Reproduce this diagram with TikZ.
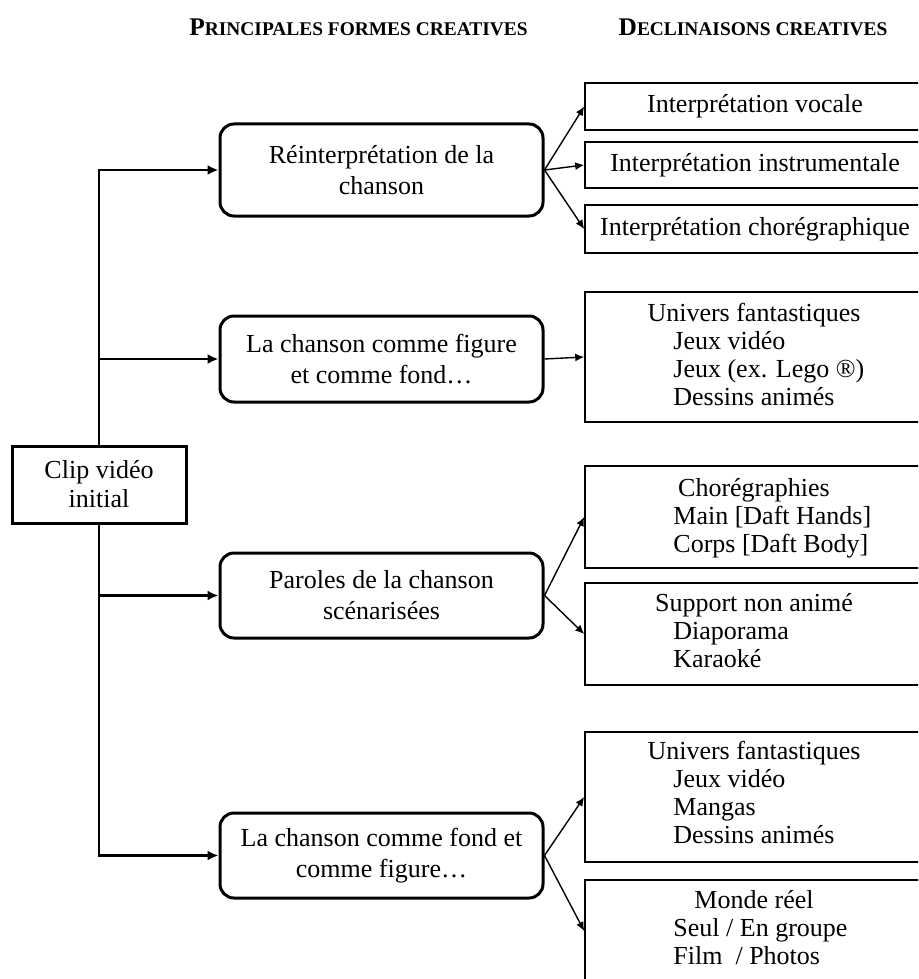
\documentclass[tikz,border=0pt]{standalone}
\usepackage{fontspec}
\setmainfont{Liberation Serif}
\usetikzlibrary{arrows.meta}
\tikzstyle{forme} = [draw, rounded corners=7pt, line width=1.5pt, minimum width=161.5pt, align=center, font=\fontsize{13}{15.5}\selectfont]
\tikzstyle{declin} = [draw, line width=0.8pt, minimum width=170pt]
\tikzstyle{trunk} = [line width=1.4pt, -{Latex[length=5.5pt,width=5pt]}]
\tikzstyle{branch} = [line width=0.7pt, -{Latex[length=4.5pt,width=4pt]}]
\newcommand{\petitecap}[2]{{\fontsize{12.7}{14}\selectfont #1}{\fontsize{9.7}{12}\selectfont #2}}
\newcommand{\declist}[4]{%
	\node[anchor=base, inner xsep=0pt] (#1-0) at (754,#2) {#3};
	\foreach \t [count=\i] in {#4}
		\node[anchor=base west, inner xsep=0pt] (#1-\i) at (673,{#2+28*\i}) {\t};}

\begin{document}
\begin{tikzpicture}[x=0.5pt, y=-0.5pt, font=\fontsize{13}{14.5}\selectfont]
		
		% Frame
		\useasboundingbox (0,0) rectangle (918,979);
		\clip (0,0) rectangle (918,979);
		
		% Headers
		\node[font=\bfseries] (h1) at (358.5,27) {\petitecap{P}{RINCIPALES FORMES CREATIVES}};
		\node[font=\bfseries] (h2) at (753,27) {\petitecap{D}{ECLINAISONS CREATIVES}};
		
		% Nodes
		\node[draw, line width=1.5pt, minimum width=87pt, minimum height=38.5pt, align=center] (clip) at (99,484.5) {Clip vidéo\\initial};
		\node[forme, minimum height=46pt] (b1) at (381.5,170) {Réinterprétation de la\\chanson};
		\node[forme, minimum height=43pt] (b2) at (381.5,359) {La chanson comme figure\\et comme fond…};
		\node[forme, minimum height=42.5pt] (b3) at (381.5,595.5) {Paroles de la chanson\\scénarisées};
		\node[forme, minimum height=42.5pt] (b4) at (381.5,855.5) {La chanson comme fond et\\comme figure…};
		
		% Declinaisons
		\node[declin, minimum height=23.5pt] (r1) at (755,106.5) {Interprétation vocale};
		\node[declin, minimum height=23pt] (r2) at (755,165) {Interprétation instrumentale};
		\node[declin, minimum height=24pt] (r3) at (755,229) {Interprétation chorégraphique};
		\node[declin, minimum height=65pt] (r4) at (755,357) {};
		\node[declin, minimum height=51pt] (r5) at (755,517) {};
		\node[declin, minimum height=51pt] (r6) at (755,634) {};
		\node[declin, minimum height=65pt] (r7) at (755,797) {};
		\node[declin, minimum height=51pt] (r8) at (755,931) {};
		
		\declist{r4}{321}{Univers fantastiques}{Jeux vidéo, Jeux (ex. Lego ®), Dessins animés}
		\declist{r5}{496}{Chorégraphies}{{Main [Daft Hands]}, {Corps [Daft Body]}}
		\declist{r6}{611}{Support non animé}{Diaporama, Karaoké}
		\declist{r7}{759}{Univers fantastiques}{Jeux vidéo, Mangas, Dessins animés}
		\declist{r8}{908}{Monde réel}{Seul / En groupe, Film~ / Photos}
		
		% Trunk
		\draw[trunk] (clip.north) |- (b1.west);
		\draw[trunk] (clip.north |- b2.west) -- (b2.west);
		\draw[trunk] (clip.south |- b3.west) -- (b3.west);
		\draw[trunk] (clip.south) |- (b4.west);
		
		% Branches
		\foreach \r in {r1,r2,r3}
			\draw[branch] (b1.east) -- (\r.west);
		\draw[branch] (b2.east) -- (r4.west);
		\foreach \r in {r5,r6}
			\draw[branch] (b3.east) -- (\r.west);
		\foreach \r in {r7,r8}
			\draw[branch] (b4.east) -- (\r.west);
	\end{tikzpicture}
\end{document}
